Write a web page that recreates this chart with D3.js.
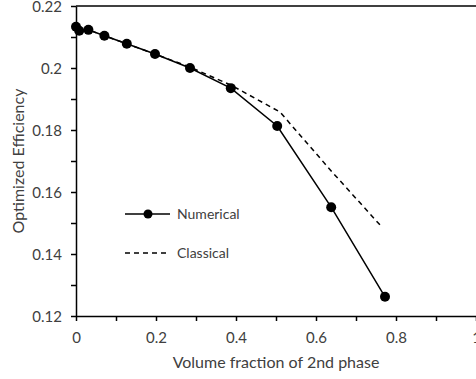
<!DOCTYPE html>
<html><head><meta charset="utf-8">
<script src="https://cdn.jsdelivr.net/npm/d3@7"></script>
<style>body{margin:0;background:#fff}svg{display:block}text{font-family:Lato,"Open Sans",sans-serif;fill:#404040}</style>
</head><body>
<svg id="c" width="476" height="379"></svg>
<script>
const numX = [0, 0.008, 0.031, 0.071, 0.127, 0.1975, 0.285, 0.387, 0.503, 0.638, 0.7725];
const numY = [0.2133, 0.2120, 0.2123, 0.2104, 0.2078, 0.2045, 0.2000, 0.1935, 0.1813, 0.1551, 0.1262];
const clsX = [0, 0.008, 0.031, 0.071, 0.127, 0.1975, 0.285, 0.39, 0.51, 0.64, 0.764];
const clsY = [0.2133, 0.2120, 0.2123, 0.2104, 0.2078, 0.2045, 0.2003, 0.1943, 0.1858, 0.1665, 0.1488];
const xTicks = [0, 0.1, 0.2, 0.3, 0.4, 0.5, 0.6, 0.7, 0.8, 0.9, 1];
const xLabels = ["0", "", "0.2", "", "0.4", "", "0.6", "", "0.8", "", "1"];
const yTicks = [0.12, 0.13, 0.14, 0.15, 0.16, 0.17, 0.18, 0.19, 0.2, 0.21, 0.22];
const yLabels = ["0.12", "", "0.14", "", "0.16", "", "0.18", "", "0.2", "", "0.22"];
const seriesNames = ["Numerical", "Classical"];

const svg = d3.select("#c");
const L = 76, R = 476, T = 6, B = 316;
const x = d3.scaleLinear().domain([0, 1]).range([L, R]);
const y = d3.scaleLinear().domain([0.12, 0.22]).range([B, T]);

svg.append("line").attr("x1", L).attr("x2", R).attr("y1", T).attr("y2", T)
  .attr("stroke", "#000").attr("stroke-width", 1.5);

const xa = svg.append("g").attr("transform", `translate(0,${B})`)
  .call(d3.axisBottom(x).tickValues(xTicks).tickSize(5).tickSizeOuter(0)
    .tickFormat((d, i) => xLabels[i]));
const ya = svg.append("g").attr("transform", `translate(${L},0)`)
  .call(d3.axisLeft(y).tickValues(yTicks).tickSize(5).tickSizeOuter(0)
    .tickFormat((d, i) => yLabels[i]));
[xa, ya].forEach(a => {
  a.select(".domain").attr("stroke", "#000").attr("stroke-width", 1.5);
  a.selectAll(".tick line").attr("stroke", "#000").attr("stroke-width", 1.5);
  a.selectAll("text").style("font-size", "15px").attr("fill", "#404040");
});
xa.selectAll("text").attr("dy", "0").attr("y", 27);
ya.selectAll("text").attr("x", -14).attr("dy", "0.35em");

svg.append("text").attr("x", (L + R) / 2).attr("y", 368).attr("text-anchor", "middle")
  .style("font-size", "16px").text("Volume fraction of 2nd phase");
svg.append("text").attr("transform", `translate(24,${(T + B) / 2}) rotate(-90)`)
  .attr("text-anchor", "middle").style("font-size", "16px").text("Optimized Efficiency");

const line = d3.line().x(d => x(d[0])).y(d => y(d[1]));
const cls = clsX.map((v, i) => [v, clsY[i]]);
const num = numX.map((v, i) => [v, numY[i]]);

svg.append("path").datum(cls).attr("d", line).attr("fill", "none")
  .attr("stroke", "#000").attr("stroke-width", 1.5).attr("stroke-dasharray", "5,4");
svg.append("path").datum(num).attr("d", line).attr("fill", "none")
  .attr("stroke", "#000").attr("stroke-width", 1.5);
svg.selectAll("circle.pt").data(num).enter().append("circle").attr("class", "pt")
  .attr("cx", d => x(d[0])).attr("cy", d => y(d[1])).attr("r", 5).attr("fill", "#000");

const lg = svg.append("g");
lg.append("line").attr("x1", 125).attr("x2", 170).attr("y1", 214).attr("y2", 214)
  .attr("stroke", "#000").attr("stroke-width", 1.5);
lg.append("circle").attr("cx", 148).attr("cy", 214).attr("r", 4.5).attr("fill", "#000");
lg.append("text").attr("x", 177).attr("y", 219).style("font-size", "14px").text(seriesNames[0]);
lg.append("line").attr("x1", 125).attr("x2", 168).attr("y1", 253).attr("y2", 253)
  .attr("stroke", "#000").attr("stroke-width", 1.5).attr("stroke-dasharray", "5,4");
lg.append("text").attr("x", 177).attr("y", 258).style("font-size", "14px").text(seriesNames[1]);
</script>
</body></html>
